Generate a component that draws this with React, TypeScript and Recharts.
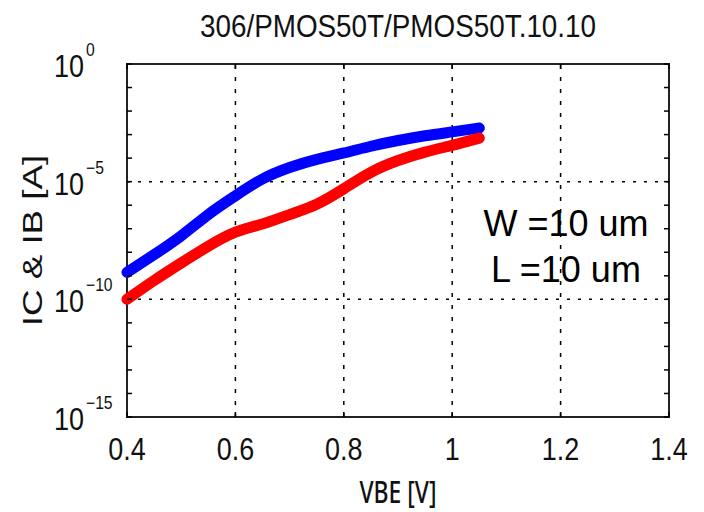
import React from "react";
import { LineChart, Line, XAxis, YAxis, ReferenceLine, ReferenceArea } from "recharts";

// VBE sweep (V) and collector / base currents (A)
const VBE = [0.4, 0.45, 0.5, 0.55, 0.6, 0.65, 0.7, 0.75, 0.8, 0.85, 0.9, 0.95, 1.0, 1.05];
const IC = [1.4e-9, 7.9e-9, 5.0e-8, 4.0e-7, 2.5e-6, 1.3e-5, 4.0e-5, 8.9e-5, 1.66e-4, 3.2e-4, 5.6e-4, 8.9e-4, 1.3e-3, 1.9e-3];
const IB = [1.0e-10, 6.3e-10, 3.5e-9, 1.8e-8, 7.1e-8, 1.6e-7, 4.0e-7, 1.1e-6, 5.0e-6, 2.5e-5, 7.9e-5, 1.8e-4, 3.5e-4, 7.1e-4];

const X_TICKS = [0.4, 0.6, 0.8, 1, 1.2, 1.4];
const X_TICK_LABELS = ["0.4", "0.6", "0.8", "1", "1.2", "1.4"];
const X_GRID = [0.6, 0.8, 1, 1.2];
const Y_TICKS = [1, 1e-1, 1e-2, 1e-3, 1e-4, 1e-5, 1e-6, 1e-7, 1e-8, 1e-9, 1e-10, 1e-11, 1e-12, 1e-13, 1e-14, 1e-15];
const Y_GRID = [1e-5, 1e-10];

const TITLE = "306/PMOS50T/PMOS50T.10.10";
const X_LABEL = "VBE [V]";
const Y_LABEL = "IC & IB [A]";
const NOTE = ["W =10 um", "L =10 um"];

const W = 704;
const H = 512;
const PLOT_LEFT = 127;
const PLOT_RIGHT = 669;
const PLOT_TOP = 64;
const PLOT_BOTTOM = 417;
const FONT = "'Liberation Sans', Arial, sans-serif";
const SX = 0.87; // matlab text looks squeezed horizontally

const data = VBE.map((v, i) => ({ vbe: v, ic: IC[i], ib: IB[i] }));

function XTick(props: any) {
  const { x, payload } = props;
  const i = X_TICKS.indexOf(payload.value);
  return (
    <g>
      <line x1={x} x2={x} y1={PLOT_BOTTOM} y2={PLOT_BOTTOM - 5} stroke="#000" strokeWidth={1.5} />
      <line x1={x} x2={x} y1={PLOT_TOP} y2={PLOT_TOP + 5} stroke="#000" strokeWidth={1.5} />
      <text
        transform={`translate(${x} ${PLOT_BOTTOM + 43}) scale(${SX} 1)`}
        textAnchor="middle"
        fontSize={31}
        fontFamily={FONT}
        fill="#111"
      >
        {X_TICK_LABELS[i]}
      </text>
    </g>
  );
}

function YTick(props: any) {
  const { y, payload } = props;
  const exp = Math.round(Math.log10(payload.value));
  const major = exp % 5 === 0;
  return (
    <g>
      <line x1={PLOT_LEFT} x2={PLOT_LEFT + 5} y1={y} y2={y} stroke="#000" strokeWidth={1.5} />
      <line x1={PLOT_RIGHT} x2={PLOT_RIGHT - 5} y1={y} y2={y} stroke="#000" strokeWidth={1.5} />
      {major && (
        <g fontFamily={FONT} fill="#111">
          <text transform={`translate(54 ${y + 13}) scale(${SX} 1)`} fontSize={31}>
            10
          </text>
          <text transform={`translate(86 ${y - 8}) scale(${SX} 1)`} fontSize={18}>
            {exp === 0 ? "0" : "\u2212" + Math.abs(exp)}
          </text>
        </g>
      )}
    </g>
  );
}

export default function App() {
  return (
    <div style={{ position: "absolute", left: 0, top: 0, width: W, height: H, background: "#fff" }}>
      <LineChart
        width={W}
        height={H}
        data={data}
        margin={{ top: PLOT_TOP, right: W - PLOT_RIGHT, bottom: 0, left: 0 }}
      >
        <XAxis
          dataKey="vbe"
          type="number"
          domain={[0.4, 1.4]}
          ticks={X_TICKS}
          height={H - PLOT_BOTTOM}
          axisLine={false}
          tickLine={false}
          tick={<XTick />}
          interval={0}
        />
        <YAxis
          type="number"
          scale="log"
          domain={[1e-15, 1]}
          ticks={Y_TICKS}
          width={PLOT_LEFT}
          axisLine={false}
          tickLine={false}
          tick={<YTick />}
          interval={0}
          allowDataOverflow
        />
        {Y_GRID.map((v) => (
          <ReferenceLine key={"h" + v} y={v} stroke="#000" strokeWidth={1.5} strokeDasharray="3 8" />
        ))}
        {X_GRID.map((v) => (
          <ReferenceLine key={"v" + v} x={v} stroke="#000" strokeWidth={1.5} strokeDasharray="4 8" />
        ))}
        <ReferenceArea x1={0.4} x2={1.4} y1={1e-15} y2={1} fill="none" stroke="#222" strokeWidth={2} />
        <Line
          dataKey="ic"
          type="natural"
          stroke="#0000ff"
          strokeWidth={11}
          strokeLinecap="round"
          dot={false}
          isAnimationActive={false}
        />
        <Line
          dataKey="ib"
          type="natural"
          stroke="#ff0000"
          strokeWidth={11}
          strokeLinecap="round"
          dot={false}
          isAnimationActive={false}
        />
      </LineChart>
      <svg
        width={W}
        height={H}
        style={{ position: "absolute", left: 0, top: 0, pointerEvents: "none" }}
      >
        <text
          transform={`translate(${(PLOT_LEFT + PLOT_RIGHT) / 2} 37) scale(${SX} 1)`}
          textAnchor="middle"
          fontSize={32}
          fontFamily={FONT}
          fill="#111"
        >
          {TITLE}
        </text>
        <text
          transform={`translate(398 503) scale(0.74 1)`}
          textAnchor="middle"
          fontSize={31}
          fontWeight={500}
          fontFamily="'Noto Sans', 'Open Sans', sans-serif"
          fill="#111"
        >
          {X_LABEL}
        </text>
        <text
          transform={`translate(42 ${(PLOT_TOP + PLOT_BOTTOM) / 2}) rotate(-90) scale(1.15 ${SX})`}
          textAnchor="middle"
          fontSize={32}
          fontFamily={FONT}
          fill="#111"
        >
          {Y_LABEL}
        </text>
        {NOTE.map((t, i) => (
          <text
            key={t}
            x={566}
            y={236 + i * 46}
            textAnchor="middle"
            fontSize={36}
            fontFamily={FONT}
            fill="#000"
          >
            {t}
          </text>
        ))}
      </svg>
    </div>
  );
}
